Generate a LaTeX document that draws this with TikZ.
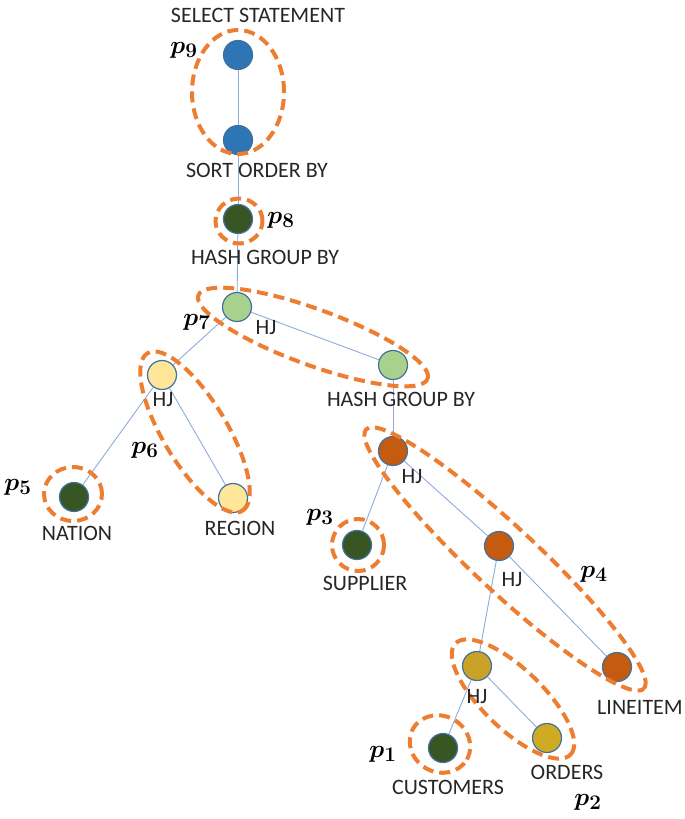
\documentclass[tikz,border=0pt]{standalone}
\usepackage{fontspec}
\setmainfont{Carlito}
\usepackage{amsmath}
\usepackage{bm}
\definecolor{cblue}{HTML}{2E75B6}
\definecolor{cdkgreen}{HTML}{375623}
\definecolor{cltgreen}{HTML}{A9D18E}
\definecolor{cltyellow}{HTML}{FFE699}
\definecolor{corange}{HTML}{C55A11}
\definecolor{cgold}{HTML}{C9A227}
\definecolor{cborder}{HTML}{41719C}
\definecolor{cedge}{HTML}{8FAADC}
\definecolor{cgroup}{HTML}{ED7D31}
\tikzset{
  op/.style={circle, draw=cborder, line width=1.2pt, minimum size=29pt, inner sep=0pt},
  lbl/.style={font=\fontsize{22}{26}\selectfont, text=black!85, inner sep=0pt},
  plbl/.style={font=\fontsize{28}{32}\selectfont, inner sep=0pt},
  edge/.style={draw=cedge, line width=0.9pt},
  grp/.style={draw=cgroup, line width=4pt, dash pattern=on 11pt off 6pt}
}
\newcommand{\plab}[1]{$\bm{p}_{\bm{#1}}$}
\begin{document}
\begin{tikzpicture}[x=1pt,y=1pt]
\useasboundingbox (0,0) rectangle (685,-819);
% operator nodes
\node[op, fill=cblue] (sel) at (238,-55) {};
\node[op, fill=cblue] (sort) at (238,-140) {};
\node[op, fill=cdkgreen] (hgbA) at (238,-219) {};
\node[op, fill=cltgreen] (hjA) at (237,-307) {};
\node[op, fill=cltgreen] (hgbB) at (393,-365) {};
\node[op, fill=cltyellow] (hjB) at (162,-375) {};
\node[op, fill=cdkgreen] (nation) at (74,-497) {};
\node[op, fill=cltyellow] (region) at (233,-498) {};
\node[op, fill=corange] (hjC) at (393,-451) {};
\node[op, fill=cdkgreen] (supplier) at (357,-545) {};
\node[op, fill=corange] (hjD) at (499,-546) {};
\node[op, fill=corange] (lineitem) at (617,-667) {};
\node[op, fill=cgold] (hjE) at (477,-666) {};
\node[op, fill=cdkgreen] (customers) at (443,-748) {};
\node[op, fill=cgold!90!yellow] (orders) at (547,-738) {};
% connectors
\draw[edge] (sel) -- (sort);
\draw[edge] (sort) -- (hgbA);
\draw[edge] (hgbA) -- (hjA);
\draw[edge] (hjA) -- (hjB);
\draw[edge] (hjA) -- (hgbB);
\draw[edge] (hjB) -- (nation);
\draw[edge] (hjB) -- (region);
\draw[edge] (hgbB) -- (hjC);
\draw[edge] (hjC) -- (supplier);
\draw[edge] (hjC) -- (hjD);
\draw[edge] (hjD) -- (hjE);
\draw[edge] (hjD) -- (lineitem);
\draw[edge] (hjE) -- (customers);
\draw[edge] (hjE) -- (orders);
% groups
\draw[grp] (238,-92) ellipse [x radius=46, y radius=62];
\draw[grp] (239,-221) ellipse [x radius=23.5, y radius=22.5];
\draw[grp, rotate around={-20:(313,-337)}] (313,-337) ellipse [x radius=122, y radius=28];
\draw[grp, rotate around={-59:(195,-432)}] (195,-432) ellipse [x radius=92, y radius=32];
\draw[grp] (73,-494) ellipse [x radius=29, y radius=27];
\draw[grp] (358,-545) ellipse [x radius=26, y radius=26];
\draw[grp, rotate around={-43:(505,-559)}] (505,-559) ellipse [x radius=190, y radius=32];
\draw[grp, rotate around={-44:(513,-699)}] (513,-699) ellipse [x radius=80, y radius=30];
\draw[grp, rotate around={-30:(440,-744)}] (440,-744) ellipse [x radius=31, y radius=28];
% text labels
\node[lbl] (tsel) at (258,-15) {SELECT STATEMENT};
\node[lbl] (tsort) at (257,-170) {SORT ORDER BY};
\node[lbl] (thgbA) at (265,-257) {HASH GROUP BY};
\node[lbl] (thjA) at (266,-328) {HJ};
\node[lbl] (thgbB) at (401,-399) {HASH GROUP BY};
\node[lbl] (thjB) at (163,-400) {HJ};
\node[lbl] (tnation) at (77,-533) {NATION};
\node[lbl] (tregion) at (240,-528) {REGION};
\node[lbl] (thjC) at (412,-477) {HJ};
\node[lbl] (tsupplier) at (365,-583) {SUPPLIER};
\node[lbl] (thjD) at (512,-580) {HJ};
\node[lbl] (tlineitem) at (640,-707) {LINEITEM};
\node[lbl] (thjE) at (477,-697) {HJ};
\node[lbl] (tcustomers) at (448,-787) {CUSTOMERS};
\node[lbl] (torders) at (567,-772) {ORDERS};
% group labels
\node[plbl] (p9) at (184,-50) {\plab{9}};
\node[plbl] (p8) at (281,-220) {\plab{8}};
\node[plbl] (p7) at (197,-322) {\plab{7}};
\node[plbl] (p6) at (145,-450) {\plab{6}};
\node[plbl] (p5) at (18,-487) {\plab{5}};
\node[plbl] (p3) at (320,-517) {\plab{3}};
\node[plbl] (p4) at (594,-574) {\plab{4}};
\node[plbl] (p1) at (383,-754) {\plab{1}};
\node[plbl] (p2) at (588,-802) {\plab{2}};
\end{tikzpicture}
\end{document}
